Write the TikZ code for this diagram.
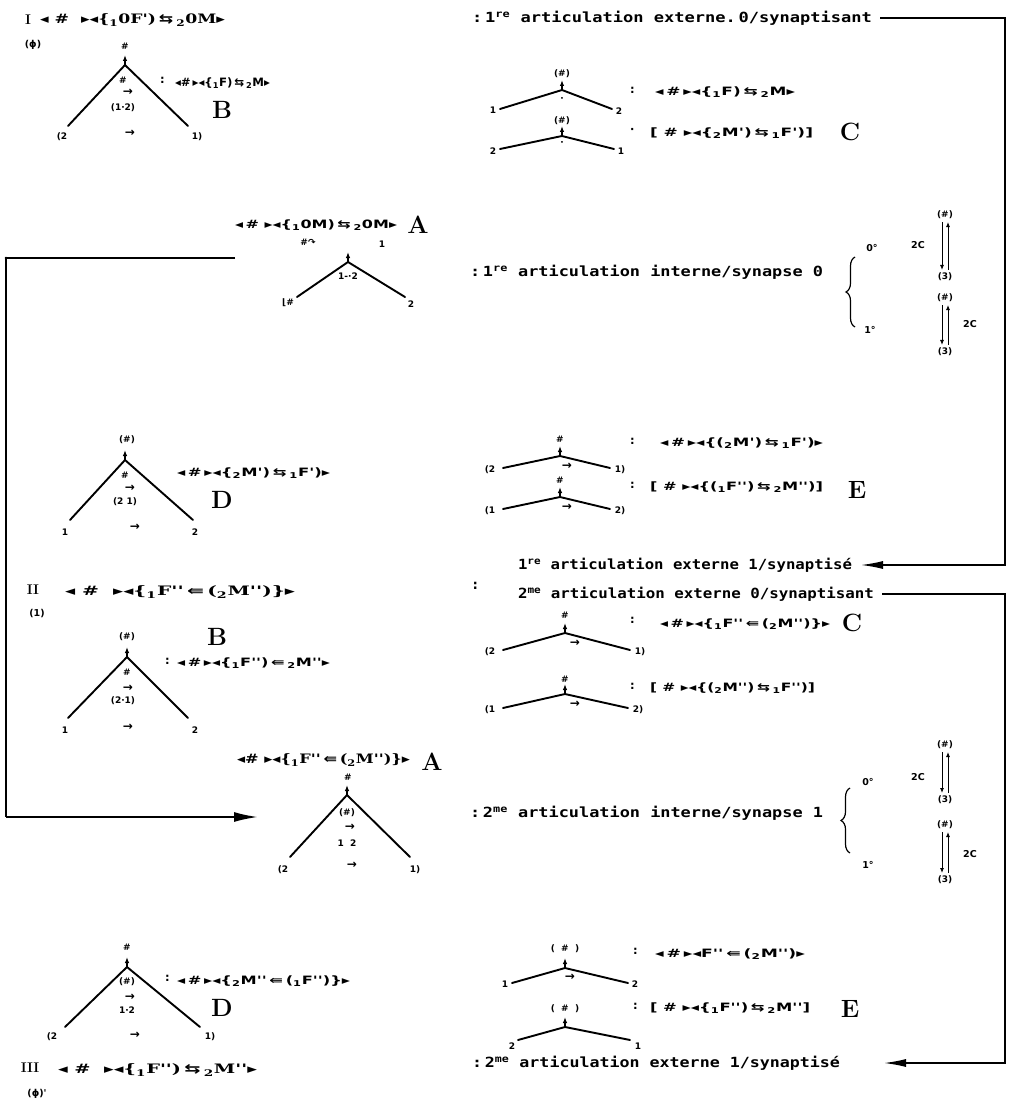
\documentclass[tikz,border=0pt]{standalone}
\usepackage{fontspec}
\usetikzlibrary{arrows.meta,decorations.pathreplacing}
\newfontfamily\dv{DejaVu Sans}
\newfontfamily\dvs{DejaVu Serif}
\newfontfamily\dvm{DejaVu Sans Mono}
\newcommand{\tL}{{\dv ◂}}
\newcommand{\tR}{{\dv ▸}}
\newcommand{\rlA}{{\dv\,⇆\,}}
\newcommand{\llA}{{\dv\,⇚\,}}
\newcommand{\sbo}{\textsubscript{1}}
\newcommand{\sbt}{\textsubscript{2}}
\newcommand{\fw}[2]{\resizebox{#1pt}{\height}{#2}}
\newcommand{\mytree}[6]{%
  \coordinate (#1a) at (#2,#3);
  \coordinate (#1t) at (#2,#3-10);
  \coordinate (#1l) at (#4,#6);
  \coordinate (#1r) at (#5,#6);
  \draw[leg] (#1l) -- (#1a) -- (#1r);
  \draw[upar] (#1a) -- (#1t);
}
\tikzset{
  every node/.style={inner sep=0pt, outer sep=0pt},
  leg/.style={line width=1.9pt, line cap=round, line join=round},
  upar/.style={-{Latex[length=6pt,width=4.5pt]}, line width=1.3pt},
  sml/.style={font=\dv\bfseries\fontsize{9}{10}\selectfont},
  smm/.style={font=\dv\bfseries\fontsize{9.5}{10}\selectfont},
  arw/.style={font=\dv\bfseries\fontsize{12}{12}\selectfont},
  fml/.style={font=\dv\bfseries\fontsize{11.5}{13}\selectfont, anchor=west},
  sfml/.style={font=\dvs\bfseries\fontsize{13}{15}\selectfont, anchor=west},
  art/.style={font=\dvm\bfseries\fontsize{14}{16}\selectfont, anchor=west},
  big/.style={font=\bfseries\fontsize{25}{27}\selectfont},
  rom/.style={font=\bfseries\fontsize{14}{15}\selectfont},
  route/.style={line width=1.3pt},
  routearr/.style={route, -{Latex[length=22pt,width=8pt]}},
  leftarr/.style={line width=2pt, -{Latex[length=24pt,width=10pt]}},
  varr/.style={line width=0.9pt, -{Latex[length=5pt,width=4pt]}},
}
\begin{document}
\begin{tikzpicture}[x=1pt,y=-1pt]
\useasboundingbox (0,0) rectangle (1014,1107);

% ---------------- top left (I, B)
\node[rom] (nI) at (28,20) {I};
\node[sfml] (fI) at (40,20) {\fw{185}{\tL\ \#\ \ \tR\tL\{\sbo0F')\rlA\sbt0M\tR}};
\node[smm] (phiI) at (33,45) {(ϕ)};
\mytree{tb}{125}{65}{68}{188}{126}
\node[sml] (tbh) at (125,46) {\#};
\node[sml] (tbi) at (123,80) {\#};
\node[arw] (tbar) at (128,92) {→};
\node[sml] (tbn) at (123,108) {(1·2)};
\node[sml] (tbL) at (62,137) {(2};
\node[arw] (tbm) at (130,133) {→};
\node[sml] (tbR) at (197,137) {1)};
\node[fml] (kB1) at (160,80) {:};
\node[fml] (fB1) at (175,83) {\fw{95}{\tL\#\,\tR\tL\{\sbo F)\rlA\sbt M\tR}};
\node[big] (lB1) at (222,110) {B};

% ---------------- top right (C)
\node[art] (art1) at (472,18) {\fw{400}{:\,1\textsuperscript{re} articulation externe.\,0/synaptisant}};
\mytree{ca}{562}{90}{500}{612}{109}
\node[sml] (cah) at (562,74) {(\#)};
\node[sml] (cad) at (562,100) {·};
\node[sml] (caL) at (493,110) {1};
\node[sml] (caR) at (619,111) {2};
\node[fml] (kC1a) at (630,90) {:};
\node[fml] (fC1a) at (655,92) {\fw{140}{\tL\,\#\,\tR\tL\{\sbo F)\rlA\sbt M\tR}};
\mytree{cb}{562}{136}{500}{614}{149}
\node[sml] (cbh) at (562,121) {(\#)};
\node[sml] (cbd) at (562,144) {·};
\node[sml] (cbL) at (493,151) {2};
\node[sml] (cbR) at (621,151) {1};
\node[fml] (kC1b) at (630,131) {·};
\node[fml] (fC1b) at (650,133) {\fw{163}{[\ \#\ \tR\tL\{\sbt M')\rlA\sbo F')]}};
\node[big] (lC1) at (850,132) {C};

% ---------------- A (first)
\node[fml] (fA1) at (235,225) {\fw{162}{\tL\,\#\ \tR\tL\{\sbo0M)\rlA\sbt0M\tR}};
\node[big] (lA1) at (418,225) {A};
\node[sml] (aac) at (308,242) {\#{\dv↷}};
\node[sml] (aa1) at (382,244) {1};
\mytree{ta}{348}{262}{297}{405}{297}
\node[sml] (tai) at (348,276) {1-·2};
\node[sml] (taL) at (288,303) {⌊\#};
\node[sml] (taR) at (411,304) {2};
\node[art] (art2) at (470,272) {\fw{353}{:\,1\textsuperscript{re} articulation interne/synapse 0}};
\draw[decorate, decoration={brace, amplitude=9pt}, line width=1.2pt] (855,327) coordinate (br1b) -- (855,257) coordinate (br1t);
\node[smm] (z1a) at (872,248) {0°};
\node[smm] (z1b) at (870,330) {1°};
\node[sml] (h1) at (945,215) {(\#)};
\node[sml] (t1) at (945,277) {(3)};
\node[sml] (h2) at (945,298) {(\#)};
\node[sml] (t2) at (945,352) {(3)};
\node[smm] (c1a) at (918,245) {2C};
\node[smm] (c1b) at (970,324) {2C};
\draw[varr] ([xshift=-3pt,yshift=-3pt]h1.south) -- ([xshift=-3pt,yshift=3pt]t1.north);
\draw[varr] ([xshift=3pt,yshift=3pt]t1.north) -- ([xshift=3pt,yshift=-3pt]h1.south);
\draw[varr] ([xshift=-3pt,yshift=-3pt]h2.south) -- ([xshift=-3pt,yshift=3pt]t2.north);
\draw[varr] ([xshift=3pt,yshift=3pt]t2.north) -- ([xshift=3pt,yshift=-3pt]h2.south);

% ---------------- D (first)
\mytree{td}{125}{460}{70}{193}{520}
\node[sml] (tdh) at (127,440) {(\#)};
\node[sml] (tdi) at (125,475) {\#};
\node[arw] (tdar) at (130,488) {→};
\node[sml] (tdn) at (125,502) {(2 1)};
\node[sml] (tdL) at (65,532) {1};
\node[arw] (tdm) at (135,527) {→};
\node[sml] (tdR) at (195,532) {2};
\node[fml] (fD1) at (177,473) {\fw{153}{\tL\,\#\,\tR\tL\{\sbt M')\rlA\sbo F')\tR}};
\node[big] (lD1) at (222,500) {D};

% ---------------- E (first)
\mytree{ea}{560}{456}{503}{610}{468}
\node[sml] (eah) at (560,439) {\#};
\node[sml] (eaL) at (490,470) {(2};
\node[arw] (eam) at (567,466) {→};
\node[sml] (eaR) at (620,470) {1)};
\node[fml] (kE1a) at (630,441) {:};
\node[fml] (fE1a) at (660,443) {\fw{163}{\tL\,\#\,\tR\tL\{(\sbt M')\rlA\sbo F')\tR}};
\mytree{eb}{560}{497}{503}{610}{509}
\node[sml] (ebh) at (560,480) {\#};
\node[sml] (ebL) at (490,511) {(1};
\node[arw] (ebm) at (567,507) {→};
\node[sml] (ebR) at (620,511) {2)};
\node[fml] (kE1b) at (630,485) {:};
\node[fml] (fE1b) at (650,487) {\fw{173}{[\ \#\ \tR\tL\{(\sbo F'')\rlA\sbt M'')]}};
\node[big] (lE1) at (857,490) {E};
\node[art] (art3) at (518,565) {\fw{334}{1\textsuperscript{re} articulation externe 1/synaptisé}};

% ---------------- II, B (second)
\node[rom] (nII) at (33,590) {II};
\node[sfml] (fII) at (65,592) {\fw{230}{\tL\ \#\ \ \tR\tL\{\sbo F''\llA(\sbt M'')\}\tR}};
\node[smm] (one) at (37,614) {(1)};
\node[art] (colII) at (471,586) {:};
\node[art] (art4) at (518,594) {\fw{356}{2\textsuperscript{me} articulation externe 0/synaptisant}};
\node[big] (lB2) at (217,637) {B};
\mytree{tc}{127}{657}{68}{188}{718}
\node[sml] (tch) at (127,637) {(\#)};
\node[sml] (tci) at (127,672) {\#};
\node[arw] (tcar) at (128,688) {→};
\node[sml] (tcn) at (123,701) {(2·1)};
\node[sml] (tcL) at (65,730) {1};
\node[arw] (tcm) at (128,727) {→};
\node[sml] (tcR) at (195,730) {2};
\node[fml] (kB2) at (165,661) {:};
\node[fml] (fB2) at (177,663) {\fw{153}{\tL\,\#\,\tR\tL\{\sbo F'')\llA\sbt M''\tR}};

% ---------------- C (second)
\mytree{cc}{565}{633}{503}{630}{650}
\node[sml] (cch) at (565,615) {\#};
\node[sml] (ccL) at (490,652) {(2};
\node[arw] (ccm) at (575,643) {→};
\node[sml] (ccR) at (640,652) {1)};
\node[fml] (kC2a) at (630,620) {:};
\node[fml] (fC2a) at (660,624) {\fw{170}{\tL\,\#\,\tR\tL\{\sbo F''\llA(\sbt M'')\}\tR}};
\node[big] (lC2) at (852,623) {C};
\mytree{cd}{565}{694}{503}{628}{708}
\node[sml] (cdh) at (565,679) {\#};
\node[sml] (cdL) at (490,710) {(1};
\node[arw] (cdm) at (575,704) {→};
\node[sml] (cdR) at (638,710) {2)};
\node[fml] (kC2b) at (630,686) {:};
\node[fml] (fC2b) at (650,688) {\fw{165}{[\ \#\ \tR\tL\{(\sbt M'')\rlA\sbo F'')]}};

% ---------------- A (second)
\node[sfml] (fA2) at (237,760) {\fw{173}{\tL\#\ \tR\tL\{\sbo F''\llA(\sbt M'')\}\tR}};
\node[big] (lA2) at (432,762) {A};
\mytree{tf}{347}{795}{290}{410}{857}
\node[sml] (tfh) at (348,777) {\#};
\node[sml] (tfi) at (347,813) {(\#)};
\node[arw] (tfar) at (350,827) {→};
\node[sml] (tfn) at (347,843) {1\ \ 2};
\node[sml] (tfL) at (283,870) {(2};
\node[arw] (tfm) at (352,865) {→};
\node[sml] (tfR) at (415,870) {1)};
\node[art] (art5) at (470,813) {\fw{353}{:\,2\textsuperscript{me} articulation interne/synapse 1}};
\draw[decorate, decoration={brace, amplitude=9pt}, line width=1.2pt] (850,853) coordinate (br2b) -- (850,788) coordinate (br2t);
\node[smm] (z2a) at (868,782) {0°};
\node[smm] (z2b) at (868,865) {1°};
\node[sml] (h3) at (945,745) {(\#)};
\node[sml] (t3) at (945,800) {(3)};
\node[sml] (h4) at (945,825) {(\#)};
\node[sml] (t4) at (945,880) {(3)};
\node[smm] (c2a) at (918,777) {2C};
\node[smm] (c2b) at (970,854) {2C};
\draw[varr] ([xshift=-3pt,yshift=-3pt]h3.south) -- ([xshift=-3pt,yshift=3pt]t3.north);
\draw[varr] ([xshift=3pt,yshift=3pt]t3.north) -- ([xshift=3pt,yshift=-3pt]h3.south);
\draw[varr] ([xshift=-3pt,yshift=-3pt]h4.south) -- ([xshift=-3pt,yshift=3pt]t4.north);
\draw[varr] ([xshift=3pt,yshift=3pt]t4.north) -- ([xshift=3pt,yshift=-3pt]h4.south);

% ---------------- D (second), III
\mytree{tg}{127}{967}{65}{200}{1027}
\node[sml] (tgh) at (127,947) {\#};
\node[sml] (tgi) at (127,982) {(\#)};
\node[arw] (tgar) at (130,997) {→};
\node[sml] (tgn) at (127,1010) {1·2};
\node[sml] (tgL) at (52,1037) {(2};
\node[arw] (tgm) at (135,1035) {→};
\node[sml] (tgR) at (210,1037) {1)};
\node[fml] (kD2) at (165,978) {:};
\node[fml] (fD2) at (177,981) {\fw{173}{\tL\,\#\,\tR\tL\{\sbt M''\llA(\sbo F'')\}\tR}};
\node[big] (lD2) at (222,1008) {D};
\node[rom] (nIII) at (30,1068) {III};
\node[sfml] (fIII) at (58,1070) {\fw{199}{\tL\ \#\ \ \tR\tL\{\sbo F'')\rlA\sbt M''\tR}};
\node[smm] (phiIII) at (37,1094) {(ϕ)'};

% ---------------- E (second)
\mytree{ec}{565}{968}{512}{628}{983}
\node[sml] (ech) at (565,949) {(\ \ \#\ \ )};
\node[sml] (ecL) at (505,984) {1};
\node[arw] (ecm) at (570,977) {→};
\node[sml] (ecR) at (635,984) {2};
\node[fml] (kE2a) at (633,951) {:};
\node[fml] (fE2a) at (655,954) {\fw{150}{\tL\,\#\,\tR\tL F''\llA(\sbt M'')\tR}};
\mytree{ed}{565}{1027}{518}{630}{1040}
\node[sml] (edh) at (565,1009) {(\ \ \#\ \ )};
\node[sml] (edL) at (512,1046) {2};
\node[sml] (edR) at (638,1046) {1};
\node[fml] (kE2b) at (633,1006) {:};
\node[fml] (fE2b) at (650,1008) {\fw{160}{[\ \#\ \tR\tL\{\sbo F'')\rlA\sbt M'']}};
\node[big] (lE2) at (850,1009) {E};
\node[art] (art6) at (472,1063) {\fw{368}{:\,2\textsuperscript{me} articulation externe 1/synaptisé}};

% ---------------- routing lines
\coordinate (rA) at (1005,18);
\coordinate (rB) at (1005,594);
\draw[routearr] ([xshift=8pt]art1.east) -- (rA) |- ([xshift=9pt]art3.east);
\draw[routearr] ([xshift=8pt]art4.east) -- (rB) |- ([xshift=44pt]art6.east);
\coordinate (L0) at (235,258);
\coordinate (L1) at (6,258);
\coordinate (L2) at (6,817);
\coordinate (L3) at (258,817);
\draw[route] (L0) -- (L1) -- (L2);
\draw[leftarr] (L2) -- (L3);
\fill (L1) circle (1.3pt);
\end{tikzpicture}
\end{document}
